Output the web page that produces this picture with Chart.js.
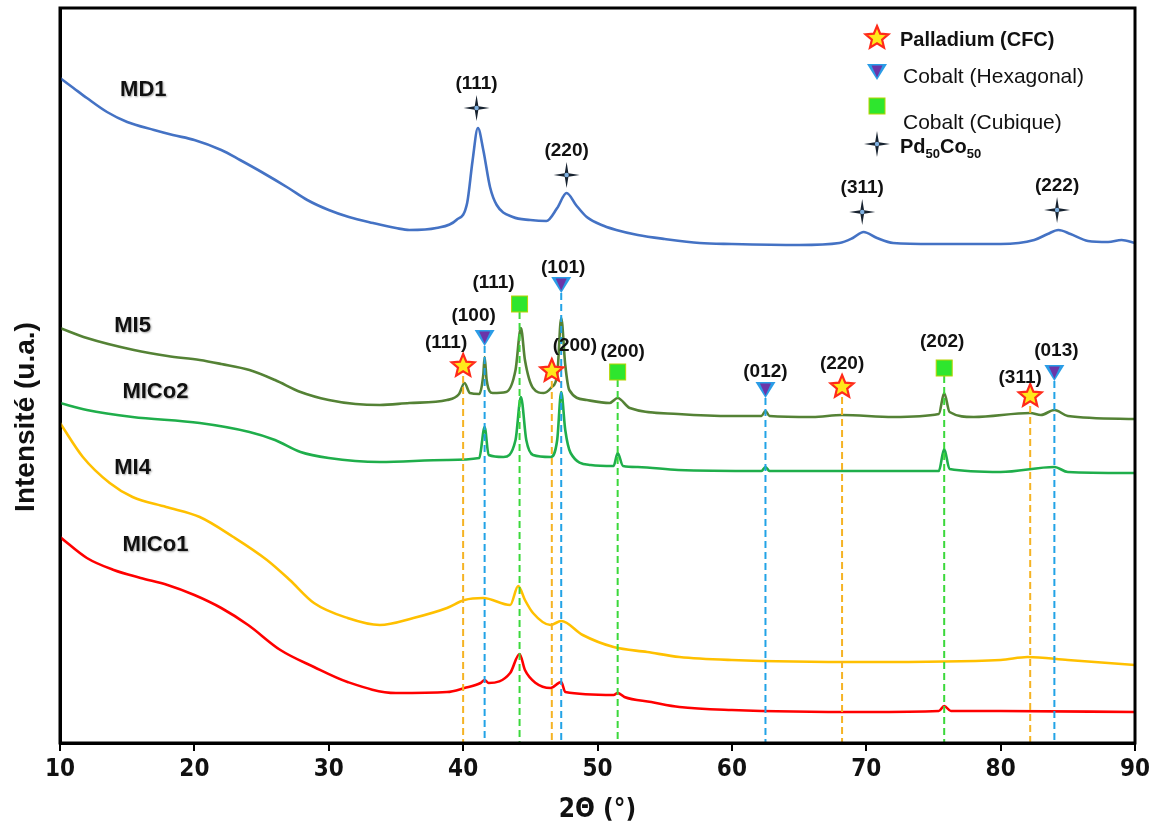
<!DOCTYPE html>
<html>
<head>
<meta charset="utf-8">
<script src="https://cdn.jsdelivr.net/npm/chart.js@4.4.1/dist/chart.umd.min.js"></script>
<style>
    body { margin: 0; background: #fff; }
    canvas { display: block; }
</style>
</head>
<body>
<canvas id="xrdChart" width="1158" height="826"></canvas>
<script>
// 2-theta positions (deg) and intensities (a.u., stacked offsets included) for each pattern
const md1Angle = [10, 11, 12, 13.5, 15, 17, 18.4, 20, 22, 23.4, 25, 27, 28.4, 30, 31.5, 33.3, 35, 36, 38, 39.5, 40.3, 40.7, 41.1, 41.5, 42, 42.5, 43.7, 45, 46.2, 47, 47.7, 48.4, 49.2, 50.5, 51.4, 53, 55, 57.6, 60, 65, 68, 69, 69.8, 70.8, 72, 75, 80, 82.5, 83.5, 84.3, 85.2, 86.5, 88, 89, 90];
const md1Counts = [665, 655, 645, 631, 621, 613, 608, 603, 593, 583, 571, 555, 543, 533, 526, 520, 515, 513, 515, 523, 540, 582, 615, 593, 556, 538, 526, 523, 522, 535, 550, 538, 526, 517, 513, 508, 504, 500, 499, 498, 500, 505, 511, 505, 500, 499, 499, 503, 509, 513, 509, 502, 501, 503, 500];

const mi5Angle = [10, 12, 15.5, 18, 20.4, 22, 24.1, 26, 27.9, 30, 32, 33.8, 36, 38.8, 39.7, 40.1, 40.5, 41.2, 41.5, 41.6, 41.75, 42.2, 43.2, 43.9, 44.3, 44.6, 45.2, 46, 46.6, 47, 47.3, 47.6, 47.9, 49.2, 50.9, 51.5, 52.4, 56, 60, 62.2, 62.5, 62.8, 66, 68.2, 72, 75.4, 75.8, 76.2, 78, 82.2, 83, 84, 85, 90];
const mi5Counts = [415, 405, 393, 387, 383, 379, 373, 363, 351, 343, 339, 338, 340, 343, 349, 360, 350, 349, 368, 386, 363, 350, 351, 373, 415, 383, 355, 350, 356, 368, 425, 378, 353, 343, 340, 345, 335, 329, 327, 327, 332, 327, 326, 328, 326, 329, 350, 331, 326, 330, 328, 333, 327, 324];

const mico2Angle = [10, 12, 15.4, 20.4, 24.1, 26, 27.9, 30, 33.8, 38.8, 41.2, 41.6, 41.9, 43, 43.9, 44.3, 44.7, 45.2, 46.5, 47, 47.3, 47.6, 48, 49.5, 51.2, 51.5, 51.9, 53, 56, 62.2, 62.5, 62.8, 75.4, 75.8, 76.2, 80, 84, 85, 90];
const mico2Counts = [340, 333, 326, 320, 311, 303, 291, 285, 281, 283, 285, 316, 288, 286, 303, 346, 303, 288, 286, 303, 351, 313, 290, 278, 277, 290, 277, 276, 273, 272, 276, 272, 272, 294, 274, 271, 276, 271, 270];

const mi4Angle = [10, 11.7, 13.7, 15.4, 17.9, 20.4, 22.9, 25.4, 27.1, 28.9, 31.4, 33.8, 36.3, 38.8, 40.1, 41.5, 43.5, 44.1, 44.6, 45.2, 46.5, 47.3, 48.9, 51.2, 53.7, 56.1, 60, 70, 80, 82, 85, 90];
const mi4Counts = [320, 286, 260, 246, 236, 226, 206, 183, 163, 140, 125, 118, 125, 135, 143, 145, 138, 157, 143, 130, 118, 122, 108, 96, 91, 86, 83, 81, 83, 86, 83, 78];

const mico1Angle = [10, 12, 14, 16, 18, 20, 22, 24, 26.4, 28.9, 31.4, 35, 38.8, 40.1, 41.3, 41.6, 41.9, 43.5, 44.2, 44.6, 45.4, 46.5, 47.3, 47.6, 51.2, 51.5, 52, 54, 56.1, 60, 70, 75.4, 75.8, 76.3, 80, 90];
const mico1Counts = [206, 185, 173, 165, 158, 148, 135, 118, 93, 76, 61, 50, 51, 55, 60, 63, 60, 70, 89, 73, 60, 55, 61, 51, 48, 50, 46, 41, 36, 33, 31, 32, 37, 32, 32, 31];

const sampleNames = ['MD1', 'MI5', 'MICo2', 'MI4', 'MICo1'];
const xTicks = [10, 20, 30, 40, 50, 60, 70, 80, 90];

// Reference peaks: angle, marker height, hkl label
const pdAngle = [40.0, 46.6, 68.2, 82.2];
const pdHeight = [377, 372, 356, 347];
const pdHkl = ['(111)', '(200)', '(220)', '(311)'];

const coHexAngle = [41.6, 47.3, 62.5, 84.0];
const coHexHeight = [405, 458, 353, 370];
const coHexHkl = ['(100)', '(101)', '(012)', '(013)'];

const coCubAngle = [44.2, 51.5, 75.8];
const coCubHeight = [439, 371, 375];
const coCubHkl = ['(111)', '(200)', '(202)'];

const pdcoAngle = [41.0, 47.7, 69.7, 84.2];
const pdcoHeight = [635, 568, 531, 533];
const pdcoHkl = ['(111)', '(220)', '(311)', '(222)'];

const colors = {
    md1: '#4472c4',
    mi5: '#548235',
    mico2: '#1fae4b',
    mi4: '#ffc000',
    mico1: '#ff0000',
    pdLine: '#f5b324',
    hexLine: '#22a3e6',
    cubLine: '#3bd83b'
};

const labelFont = 'bold 19px "Liberation Sans", Arial, sans-serif';

// Turn two arrays into {x, y} points
function toPoints(angles, counts) {
    return angles.map((a, i) => ({x: a, y: counts[i]}));
}

// Marker shapes
function drawStar5(ctx, x, y, r) {
    ctx.beginPath();
    for (let i = 0; i < 10; i++) {
        const rad = i % 2 === 0 ? r : r * 0.45;
        const ang = -Math.PI / 2 + i * Math.PI / 5;
        ctx.lineTo(x + rad * Math.cos(ang), y + rad * Math.sin(ang));
    }
    ctx.closePath();
    ctx.fillStyle = '#ffe81a';
    ctx.fill();
    ctx.lineWidth = 2.2;
    ctx.strokeStyle = '#ff2a1a';
    ctx.stroke();
}

function drawTriangle(ctx, x, y, s) {
    ctx.beginPath();
    ctx.moveTo(x - s, y - s * 0.8);
    ctx.lineTo(x + s, y - s * 0.8);
    ctx.lineTo(x, y + s * 0.8);
    ctx.closePath();
    ctx.fillStyle = '#2a9ce6';
    ctx.fill();
    const k = 0.55;
    ctx.beginPath();
    ctx.moveTo(x - s * k, y - s * 0.8 + 1.5);
    ctx.lineTo(x + s * k, y - s * 0.8 + 1.5);
    ctx.lineTo(x, y + s * 0.8 * k + 1);
    ctx.closePath();
    ctx.fillStyle = '#6b35a8';
    ctx.fill();
}

function drawSquare(ctx, x, y, s) {
    ctx.fillStyle = '#2ee62e';
    ctx.fillRect(x - s / 2, y - s / 2, s, s);
    ctx.lineWidth = 1;
    ctx.strokeStyle = '#b8d400';
    ctx.strokeRect(x - s / 2, y - s / 2, s, s);
}

function drawStar4(ctx, x, y, r) {
    ctx.beginPath();
    for (let i = 0; i < 8; i++) {
        const rad = i % 2 === 0 ? r : r * 0.2;
        const ang = -Math.PI / 2 + i * Math.PI / 4;
        ctx.lineTo(x + rad * Math.cos(ang), y + rad * Math.sin(ang));
    }
    ctx.closePath();
    ctx.fillStyle = '#17222f';
    ctx.fill();
    ctx.beginPath();
    ctx.arc(x, y, 2.2, 0, Math.PI * 2);
    ctx.fillStyle = '#7fb0e0';
    ctx.fill();
}

function drawDashed(ctx, px, top, bottom, color) {
    ctx.save();
    ctx.beginPath();
    ctx.setLineDash([7, 4]);
    ctx.lineWidth = 2;
    ctx.strokeStyle = color;
    ctx.moveTo(px, top);
    ctx.lineTo(px, bottom);
    ctx.stroke();
    ctx.restore();
}

function drawText(ctx, text, x, y, font, align) {
    ctx.font = font;
    ctx.fillStyle = '#111';
    ctx.textAlign = align || 'center';
    ctx.textBaseline = 'middle';
    ctx.fillText(text, x, y);
}

// Pd50Co50 with subscripts
function drawPdCo(ctx, x, y) {
    const big = 'bold 20px "Liberation Sans", Arial, sans-serif';
    const small = 'bold 13px "Liberation Sans", Arial, sans-serif';
    ctx.fillStyle = '#111';
    ctx.textAlign = 'left';
    ctx.textBaseline = 'alphabetic';
    let cx = x;
    [['Pd', big, 0], ['50', small, 5], ['Co', big, 0], ['50', small, 5]].forEach(([t, f, dy]) => {
        ctx.font = f;
        ctx.fillText(t, cx, y + 7 + dy);
        cx += ctx.measureText(t).width;
    });
}

// Plugin that draws the frame, peak markers, hkl labels, sample names and legend
const annotationPlugin = {
    id: 'xrdAnnotations',
    afterDatasetsDraw(chart) {
        const ctx = chart.ctx;
        const xs = chart.scales.x;
        const ys = chart.scales.y;
        const area = chart.chartArea;
        ctx.save();

        // Dashed reference lines down to the axis
        pdAngle.forEach((a, i) => drawDashed(ctx, xs.getPixelForValue(a), ys.getPixelForValue(pdHeight[i]) + 10, area.bottom, colors.pdLine));
        coHexAngle.forEach((a, i) => drawDashed(ctx, xs.getPixelForValue(a), ys.getPixelForValue(coHexHeight[i]) + 8, area.bottom, colors.hexLine));
        coCubAngle.forEach((a, i) => drawDashed(ctx, xs.getPixelForValue(a), ys.getPixelForValue(coCubHeight[i]) + 8, area.bottom, colors.cubLine));

        // Markers
        pdAngle.forEach((a, i) => drawStar5(ctx, xs.getPixelForValue(a), ys.getPixelForValue(pdHeight[i]), 12));
        coHexAngle.forEach((a, i) => drawTriangle(ctx, xs.getPixelForValue(a), ys.getPixelForValue(coHexHeight[i]), 10));
        coCubAngle.forEach((a, i) => drawSquare(ctx, xs.getPixelForValue(a), ys.getPixelForValue(coCubHeight[i]), 16));
        pdcoAngle.forEach((a, i) => drawStar4(ctx, xs.getPixelForValue(a), ys.getPixelForValue(pdcoHeight[i]), 13));

        // hkl labels (offsets from marker, in pixels)
        const pdOffsets = [[-17, -23], [23, -25], [0, -23], [-10, -18]];
        const hexOffsets = [[-11, -22], [2, -17], [0, -18], [2, -22]];
        const cubOffsets = [[-26, -21], [5, -20], [-2, -26]];
        pdHkl.forEach((t, i) => drawText(ctx, t, xs.getPixelForValue(pdAngle[i]) + pdOffsets[i][0], ys.getPixelForValue(pdHeight[i]) + pdOffsets[i][1], labelFont));
        coHexHkl.forEach((t, i) => drawText(ctx, t, xs.getPixelForValue(coHexAngle[i]) + hexOffsets[i][0], ys.getPixelForValue(coHexHeight[i]) + hexOffsets[i][1], labelFont));
        coCubHkl.forEach((t, i) => drawText(ctx, t, xs.getPixelForValue(coCubAngle[i]) + cubOffsets[i][0], ys.getPixelForValue(coCubHeight[i]) + cubOffsets[i][1], labelFont));
        pdcoHkl.forEach((t, i) => drawText(ctx, t, xs.getPixelForValue(pdcoAngle[i]), ys.getPixelForValue(pdcoHeight[i]) - 24, labelFont));

        // Sample names
        const namePos = [[16.2, 653], [15.4, 417], [17.1, 351], [15.4, 275], [17.1, 198]];
        ctx.save();
        ctx.shadowColor = 'rgba(0,0,0,0.35)';
        ctx.shadowBlur = 2;
        ctx.shadowOffsetX = 1;
        ctx.shadowOffsetY = 1;
        sampleNames.forEach((n, i) => drawText(ctx, n, xs.getPixelForValue(namePos[i][0]), ys.getPixelForValue(namePos[i][1]), 'bold 22px "Liberation Sans", Arial, sans-serif'));
        ctx.restore();

        // Legend
        drawStar5(ctx, 877, 38, 12);
        drawText(ctx, 'Palladium (CFC)', 900, 40, 'bold 20px "Liberation Sans", Arial, sans-serif', 'left');
        drawTriangle(ctx, 877, 72, 10);
        drawText(ctx, 'Cobalt (Hexagonal)', 903, 77, '21px "Liberation Sans", Arial, sans-serif', 'left');
        drawSquare(ctx, 877, 106, 16);
        drawText(ctx, 'Cobalt (Cubique)', 903, 123, '21px "Liberation Sans", Arial, sans-serif', 'left');
        drawStar4(ctx, 877, 144, 13);
        drawPdCo(ctx, 900, 146);

        // Frame around the plot area
        ctx.lineWidth = 3;
        ctx.strokeStyle = '#000';
        ctx.setLineDash([]);
        ctx.strokeRect(area.left, area.top, area.right - area.left, area.bottom - area.top);

        // Y axis title
        ctx.save();
        ctx.translate(26, 417);
        ctx.rotate(-Math.PI / 2);
        drawText(ctx, 'Intensité (u.a.)', 0, 0, 'bold 28px "Liberation Sans", Arial, sans-serif');
        ctx.restore();

        ctx.restore();
    }
};

function makeSeries(label, angles, counts, color) {
    return {
        label: label,
        data: toPoints(angles, counts),
        borderColor: color,
        backgroundColor: color,
        borderWidth: 2.6,
        pointRadius: 0,
        fill: false,
        cubicInterpolationMode: 'monotone'
    };
}

const tickFont = {family: '"Liberation Sans Narrow", "Arial Narrow", "DejaVu Sans Condensed", sans-serif', size: 24, weight: 'bold'};

const canvasContext = document.getElementById('xrdChart').getContext('2d');
window.xrdChart = new Chart(canvasContext, {
    type: 'line',
    data: {
        datasets: [
            makeSeries(sampleNames[0], md1Angle, md1Counts, colors.md1),
            makeSeries(sampleNames[1], mi5Angle, mi5Counts, colors.mi5),
            makeSeries(sampleNames[2], mico2Angle, mico2Counts, colors.mico2),
            makeSeries(sampleNames[3], mi4Angle, mi4Counts, colors.mi4),
            makeSeries(sampleNames[4], mico1Angle, mico1Counts, colors.mico1)
        ]
    },
    options: {
        responsive: false,
        animation: false,
        layout: {padding: {top: 8, right: 23, left: 0, bottom: 0}},
        plugins: {
            legend: {display: false},
            tooltip: {enabled: false}
        },
        scales: {
            x: {
                type: 'linear',
                min: 10,
                max: 90,
                afterBuildTicks: scale => { scale.ticks = xTicks.map(v => ({value: v})); },
                ticks: {color: '#111', font: tickFont, padding: 4, maxRotation: 0},
                grid: {drawOnChartArea: false, drawTicks: true, tickLength: 8, color: '#000', lineWidth: 2},
                border: {display: true, color: '#000', width: 3},
                title: {
                    display: true,
                    text: '2Θ (°)',
                    color: '#111',
                    font: {family: '"Liberation Sans Narrow", "Arial Narrow", "DejaVu Sans Condensed", sans-serif', size: 26, weight: 'bold'},
                    padding: {top: 0, bottom: 0}
                },
                afterFit: scale => { scale.height = 83; }
            },
            y: {
                min: 0,
                max: 735,
                ticks: {display: false},
                grid: {display: false},
                border: {display: true, color: '#000', width: 3},
                afterFit: scale => { scale.width = 60; }
            }
        }
    },
    plugins: [annotationPlugin]
});
</script>
</body>
</html>
